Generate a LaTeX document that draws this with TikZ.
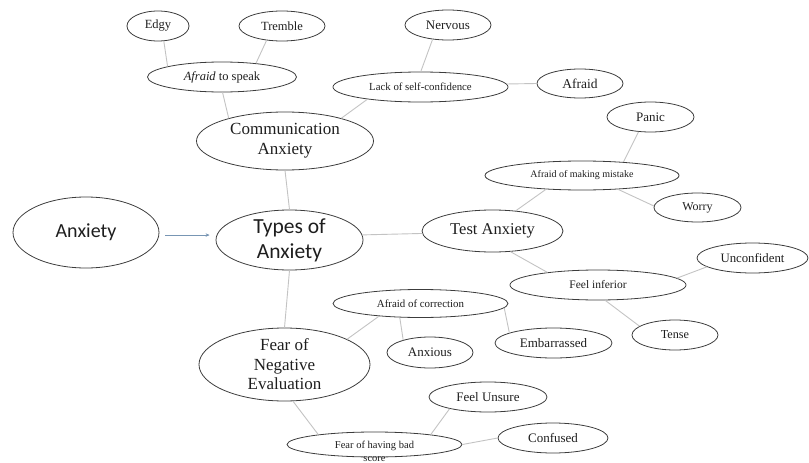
\documentclass[tikz,border=0pt]{standalone}
\usepackage{fontspec}
\setmainfont{Liberation Serif}
\newfontfamily\carlitofont{Carlito}
\usetikzlibrary{shapes.geometric,arrows.meta}
\definecolor{linkgrey}{RGB}{195,195,195}
\definecolor{arrowblue}{RGB}{120,150,180}
\definecolor{ovline}{RGB}{60,60,60}
\definecolor{txt}{RGB}{30,30,30}
\tikzset{
  ov/.style={ellipse, draw=ovline, line width=0.8pt, inner sep=0pt, align=center, text=txt},
  lk/.style={draw=linkgrey, line width=0.9pt},
  arr/.style={draw=arrowblue, line width=0.7pt, -{Stealth[length=4pt,width=3.5pt]}, shorten <=6pt, shorten >=6pt},
  sz/.style 2 args={minimum width=#1pt, minimum height=#2pt},
}
\begin{document}
\begin{tikzpicture}[x=1pt,y=-1pt]
\useasboundingbox (0,0) rectangle (809,463);
% nodes
\node[ov, sz={62}{30}, font=\rmfamily\fontsize{12.5}{15}\selectfont] (edgy) at (158,26) {Edgy};
\node[ov, sz={86}{30}, font=\rmfamily\fontsize{12.5}{15}\selectfont] (tremble) at (282,26) {Tremble};
\node[ov, sz={149}{30}, font=\rmfamily\fontsize{12.5}{15}\selectfont] (speak) at (222,77) {\textit{Afraid} to speak};
\node[ov, sz={86}{30}, font=\rmfamily\fontsize{13}{15}\selectfont] (nervous) at (448,25) {Nervous};
\node[ov, sz={175}{30}, font=\rmfamily\fontsize{10.8}{13}\selectfont] (lack) at (420.5,87) {Lack of self-confidence};
\node[ov, sz={86}{29}, font=\rmfamily\fontsize{13.5}{16}\selectfont] (afraid) at (580,83.5) {Afraid};
\node[ov, sz={177}{58}, font=\rmfamily\fontsize{17}{20}\selectfont] (comm) at (285,141) {Communication\\Anxiety};
\node[ov, sz={87}{30}, font=\rmfamily\fontsize{13}{15}\selectfont] (panic) at (650.5,117) {Panic};
\node[ov, sz={194}{29}, font=\rmfamily\fontsize{10}{12}\selectfont] (amm) at (582,175.5) {Afraid of making mistake};
\node[ov, sz={87}{29}, font=\rmfamily\fontsize{12}{14}\selectfont] (worry) at (697.5,207.5) {Worry};
\node[ov, sz={146}{71}, font=\carlitofont\fontsize{20}{24}\selectfont] (anx) at (86,232.5) {Anxiety};
\node[ov, sz={147}{60}, inner ysep=-4pt, font=\carlitofont\fontsize{21.5}{25}\selectfont] (types) at (289.5,240) {Types of\\Anxiety};
\node[ov, sz={141}{42}, font=\rmfamily\fontsize{16.5}{19}\selectfont] (test) at (492.5,231) {Test Anxiety};
\node[ov, sz={176}{30}, font=\rmfamily\fontsize{11.5}{14}\selectfont] (fi) at (598,285) {Feel inferior};
\node[ov, sz={111}{30}, font=\rmfamily\fontsize{12.8}{15}\selectfont] (unconf) at (752.5,258) {Unconfident};
\node[ov, sz={86}{30}, font=\rmfamily\fontsize{12.2}{15}\selectfont] (tense) at (675,335) {Tense};
\node[ov, sz={175}{28}, font=\rmfamily\fontsize{10.9}{13}\selectfont] (aoc) at (420.5,303.5) {Afraid of correction};
\node[ov, sz={86}{31}, font=\rmfamily\fontsize{13}{15}\selectfont] (anxious) at (430,352.5) {Anxious};
\node[ov, sz={117}{30}, font=\rmfamily\fontsize{13}{15}\selectfont] (emb) at (553.5,343) {Embarrassed};
\node[ov, sz={171}{73}, inner ysep=-6pt, font=\rmfamily\fontsize{17}{19.5}\selectfont] (fne) at (284.5,364.5) {Fear of\\Negative\\Evaluation};
\node[ov, sz={118}{30}, font=\rmfamily\fontsize{13}{15}\selectfont] (fu) at (488,397) {Feel Unsure};
\node[ov, sz={110}{30}, font=\rmfamily\fontsize{13}{15}\selectfont] (conf) at (553,438) {Confused};
\node[ov, sz={175}{25}] (bs) at (374.5,444.5) {};
\node[align=center, inner sep=0pt, text=txt, font=\rmfamily\fontsize{10.5}{12.5}\selectfont] (bstext) at (374.5,451.5) {Fear of having bad\\score};
% links
\draw[lk] (edgy.-69) -- (speak.169);
\draw[lk] (tremble.-137) -- (speak.22);
\draw[lk] (speak.-88) -- (comm.158);
\draw[lk] (lack.-167) -- (comm.22);
\draw[lk] (nervous.-137) -- (lack.89);
\draw[lk] (lack.2) -- (afraid.180);
\draw[lk] (comm.south) -- (types.north);
\draw[lk] (types.south) -- (fne.north);
\draw[lk] (types.4) -- (test.182);
\draw[lk] (panic.-129) -- (amm.18);
\draw[lk] (amm.-21) -- (worry.178);
\draw[lk] (amm.-159) -- (test.41);
\draw[lk] (test.-49) -- (fi.166);
\draw[lk] (fi.5) -- (unconf.-169);
\draw[lk] (fi.-65) -- (tense.166);
\draw[lk] (aoc.-163) -- (fne.22);
\draw[lk] (aoc.-146) -- (anxious.155);
\draw[lk] (aoc.-3) -- (emb.167);
\draw[lk] (fne.-77) -- (bs.170);
\draw[lk] (bs.10) -- (fu.-163);
\draw[lk] (bs.0) -- (conf.180);
% arrow
\draw[arr] (anx.-2) -- (types.west |- anx.-2);
\end{tikzpicture}
\end{document}
